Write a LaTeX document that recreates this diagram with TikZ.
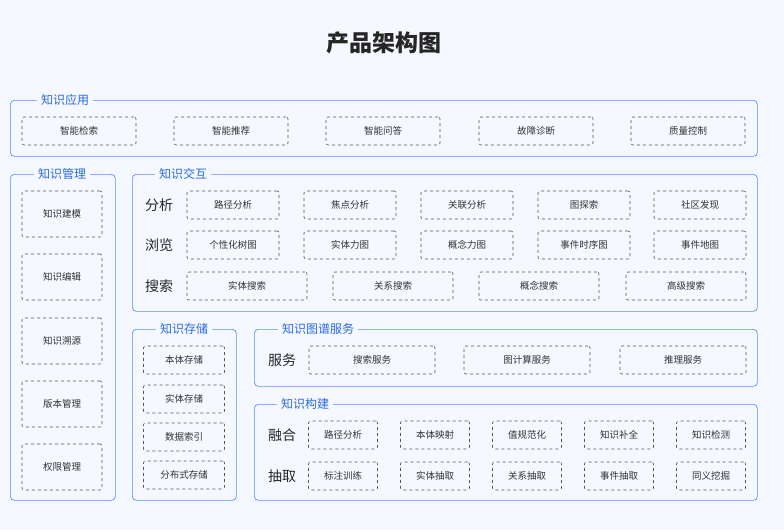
\documentclass[tikz,border=0pt]{standalone}
\usepackage{fontspec}
\setmainfont{Noto Sans CJK SC}
\usetikzlibrary{positioning}
\definecolor{bgc}{HTML}{F5F8FE}
\definecolor{grpblue}{HTML}{5B8FF9}
\definecolor{ttlblue}{HTML}{2A6AE6}
\definecolor{boxgray}{HTML}{555555}
\begin{document}
\begin{tikzpicture}[x=1pt,y=-1pt,
	  font=\fontsize{9.5}{11}\selectfont,
	  grp/.style={draw=grpblue,rounded corners=4pt,line width=0.7pt,anchor=north west,inner sep=0pt},
	  grptitle/.style={fill=bgc,text=ttlblue,font=\fontsize{12}{14}\selectfont,inner xsep=4pt,inner ysep=1pt},
	  itembox/.style={draw=boxgray,dashed,rounded corners=2pt,line width=0.6pt,minimum height=28pt,inner sep=0pt,text=black!80},
	  rowlabel/.style={font=\fontsize{14}{16}\selectfont,text=black!85}
	]
	\fill[bgc] (0,0) rectangle (784,530);
	\useasboundingbox (0,0) rectangle (784,530);

	\node[font=\bfseries\fontsize{23}{26}\selectfont,text=black!85] (maintitle) at (384,43) {产品架构图};

	% frames
	\node[grp,minimum width=747pt,minimum height=56pt] (app) at (10,100) {};
	\node[grp,minimum width=105pt,minimum height=326pt] (mgmt) at (10,174) {};
	\node[grp,minimum width=625pt,minimum height=137pt] (inter) at (132,174) {};
	\node[grp,minimum width=104pt,minimum height=171pt] (store) at (132,329) {};
	\node[grp,minimum width=503pt,minimum height=57pt] (serv) at (254,329) {};
	\node[grp,minimum width=503pt,minimum height=96pt] (build) at (254,404) {};

	\node[grptitle] at (65,100) {知识应用};
	\node[grptitle] at (62,174) {知识管理};
	\node[grptitle] at (183,174) {知识交互};
	\node[grptitle] at (184,329) {知识存储};
	\node[grptitle] at (318,329) {知识图谱服务};
	\node[grptitle] at (305,404) {知识构建};

	% 知识应用
	\foreach \x/\t [count=\i] in {79/智能检索,231/智能推荐,383/智能问答,536/故障诊断,688/质量控制}
	  \node[itembox,minimum width=114pt] (app\i) at (\x,131) {\t};

	% 知识管理
	\foreach \y/\t [count=\i] in {214/知识建模,277/知识编辑,341/知识溯源,404/版本管理,467/权限管理}
	  \node[itembox,minimum width=80pt,minimum height=46pt] (mgmt\i) at (62,\y) {\t};

	% 知识交互
	\node[rowlabel] (lblfx) at (159,205) {分析};
	\node[rowlabel] (lblll) at (159,245) {浏览};
	\node[rowlabel] (lblss) at (159,286) {搜索};
	\foreach \x/\t [count=\i] in {233/路径分析,350/焦点分析,467/关联分析,584/图探索,700/社区发现}
	  \node[itembox,minimum width=92pt] (fx\i) at (\x,205) {\t};
	\foreach \x/\t [count=\i] in {233/个性化树图,350/实体力图,467/概念力图,584/事件时序图,700/事件地图}
	  \node[itembox,minimum width=92pt] (ll\i) at (\x,245) {\t};
	\foreach \x/\t [count=\i] in {247/实体搜索,393/关系搜索,539/概念搜索,686/高级搜索}
	  \node[itembox,minimum width=120pt] (ss\i) at (\x,286) {\t};

	% 知识存储
	\foreach \y/\t [count=\i] in {360/本体存储,399/实体存储,437/数据索引,475/分布式存储}
	  \node[itembox,minimum width=81pt] (st\i) at (184,\y) {\t};

	% 知识图谱服务
	\node[rowlabel] (lblfw) at (282,360) {服务};
	\foreach \x/\t [count=\i] in {372/搜索服务,527/图计算服务,683/推理服务}
	  \node[itembox,minimum width=126pt] (sv\i) at (\x,360) {\t};

	% 知识构建
	\node[rowlabel] (lblrh) at (282,435) {融合};
	\node[rowlabel] (lblcq) at (282,476) {抽取};
	\foreach \x/\t [count=\i] in {343/路径分析,435/本体映射,527/值规范化,619/知识补全,711/知识检测}
	  \node[itembox,minimum width=69pt] (rh\i) at (\x,435) {\t};
	\foreach \x/\t [count=\i] in {343/标注训练,435/实体抽取,527/关系抽取,619/事件抽取,711/同义挖掘}
	  \node[itembox,minimum width=69pt] (cq\i) at (\x,476) {\t};
\end{tikzpicture}
\end{document}
